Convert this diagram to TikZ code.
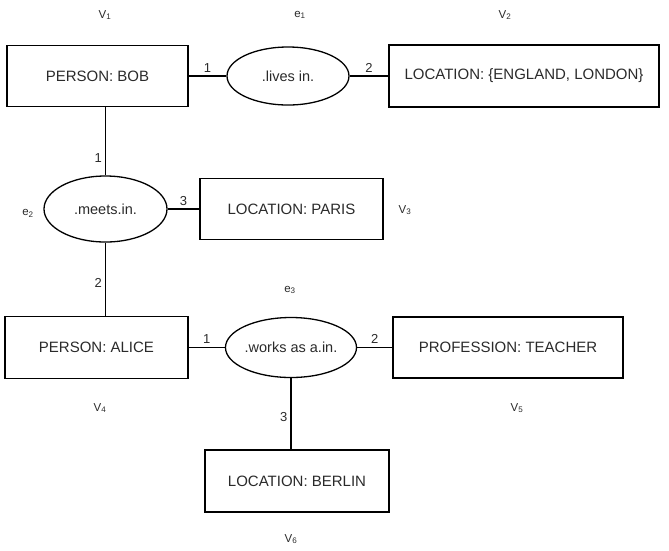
\documentclass[tikz,border=0pt]{standalone}
\usepackage{fontspec}
\setmainfont{Liberation Sans}
\usetikzlibrary{shapes.geometric, positioning, calc}
\definecolor{textColor}{HTML}{2A2A2A}

\begin{document}
\begin{tikzpicture}[
      x=1pt, y=-1pt,
      concept/.style={rectangle,draw,line width=1.5pt,inner sep=0pt,text=textColor,
        font=\fontsize{15}{18}\selectfont},
      relation/.style={ellipse,draw,line width=1.3pt,inner sep=0pt,text=textColor,
        font=\fontsize{14.5}{17}\selectfont},
      link/.style={line width=1.5pt},
      num/.style={font=\fontsize{13}{15}\selectfont,text=textColor,inner sep=3pt},
      tag/.style={font=\fontsize{11.5}{13}\selectfont,text=textColor}
    ]
    \useasboundingbox (0,0) rectangle (669,550);
    % concept boxes
    \node[concept,minimum width=181pt,minimum height=61pt] (bob)     at ( 97.5, 76)  {PERSON: BOB};
    \node[concept,minimum width=270pt,minimum height=62pt] (england) at (524,   76)  {LOCATION: \{ENGLAND, LONDON\}};
    \node[concept,minimum width=183pt,minimum height=61pt] (paris)   at (291.5,209)  {LOCATION: PARIS};
    \node[concept,minimum width=183pt,minimum height=62pt] (alice)   at ( 96.5,347.5){PERSON: ALICE};
    \node[concept,minimum width=230pt,minimum height=61pt] (teacher) at (508,  347.5){PROFESSION: TEACHER};
    \node[concept,minimum width=184pt,minimum height=62pt] (berlin)  at (297,  481)  {LOCATION: BERLIN};
    % relation ellipses
    \node[relation,minimum width=122pt,minimum height=58pt] (lives)  at (288,   76)  {.lives in.};
    \node[relation,minimum width=123pt,minimum height=66pt] (meets)  at (105.5,209)  {.meets.in.};
    \node[relation,minimum width=122pt,minimum height=60pt] (works)  at (291,  347.5){.works as a.in.};
    % arcs
    \draw[link] (bob) -- node[num,above]{1} (lives);
    \draw[link] (lives) -- node[num,above]{2} (england);
    \draw[link] (meets.north |- bob.south) -- node[num,left,pos=0.75]{1} (meets.north);
    \draw[link] (meets) -- node[num,above]{3} (paris);
    \draw[link] (meets.south) -- node[num,left,pos=0.55]{2} (meets.south |- alice.north);
    \draw[link] (alice) -- node[num,above]{1} (works);
    \draw[link] (works) -- node[num,above]{2} (teacher);
    \draw[link] (works.south) -- node[num,left,pos=0.55]{3} (works.south |- berlin.north);
    % labels
    \node[tag] (v1) at (105,15)  {V\textsubscript{1}};
    \node[tag] (e1) at (300,15)  {e\textsubscript{1}};
    \node[tag] (v2) at (505,15)  {V\textsubscript{2}};
    \node[tag] (e2) at (28,213)  {e\textsubscript{2}};
    \node[tag] (v3) at (405,210) {V\textsubscript{3}};
    \node[tag] (e3) at (290,290) {e\textsubscript{3}};
    \node[tag] (v4) at (100,408) {V\textsubscript{4}};
    \node[tag] (v5) at (517,408) {V\textsubscript{5}};
    \node[tag] (v6) at (291,539) {V\textsubscript{6}};
  \end{tikzpicture}
\end{document}
